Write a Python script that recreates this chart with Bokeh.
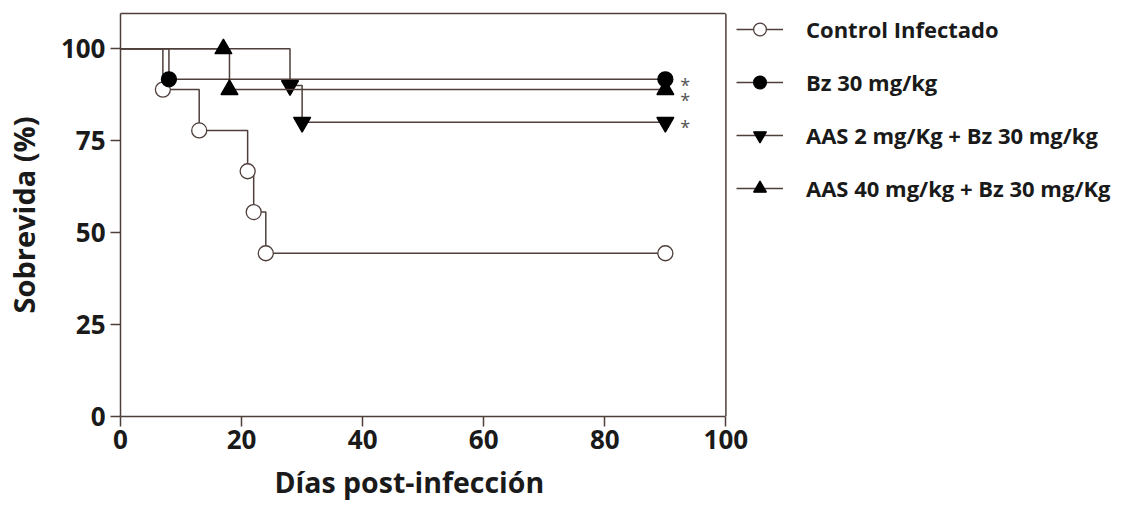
from bokeh.plotting import figure
from bokeh.models import Range1d, FixedTicker, Legend, LegendItem, ColumnDataSource, LinearAxis, Span, Title
from bokeh.core.properties import value
from bokeh.embed import file_html
from bokeh.resources import INLINE

# ---- data ----
ctrl_days = [0, 7, 13, 21, 22, 24, 90]
ctrl_surv = [100, 88.9, 77.8, 66.7, 55.6, 44.4, 44.4]
bz_days = [0, 8, 90]
bz_surv = [100, 91.7, 91.7]
aas2_days = [0, 28, 30, 90]
aas2_surv = [100, 90, 80, 80]
aas40_days = [0, 17, 18, 90]
aas40_surv = [100, 100, 88.9, 88.9]

labels = ["Control Infectado", "Bz 30 mg/kg", "AAS 2 mg/Kg + Bz 30 mg/kg", "AAS 40 mg/kg + Bz 30 mg/Kg"]
x_ticks = [0, 20, 40, 60, 80, 100]
y_ticks = [0, 25, 50, 75, 100]
sig_marks = ["*", "*", "*"]

X_MAX = 100
Y_MAX = 109.6
LINE = "#4e3f3b"
TXT = "#1a1a1a"
FONT = "Open Sans"

# The frame is widened to the right so the legend (drawn inside it) is not clipped;
# axis bounds + span keep the visible box at 0..100 days.
W, LEFT, RIGHT = 1122, 119, 2
box_px = 606
x_end = X_MAX * (W - LEFT - RIGHT) / box_px

p = figure(width=W, height=510, output_backend="svg", toolbar_location=None,
           x_range=Range1d(0, x_end), y_range=Range1d(0, Y_MAX),
           min_border_left=LEFT, min_border_right=RIGHT, min_border_top=13, min_border_bottom=94)
p.grid.visible = False
p.outline_line_color = None
p.background_fill_color = "white"
p.border_fill_color = "white"

for ax in (p.xaxis[0], p.yaxis[0]):
    ax.axis_line_color = LINE
    ax.axis_line_width = 1.5
    ax.major_tick_line_color = LINE
    ax.major_tick_line_width = 1.5
    ax.major_tick_out = 10
    ax.major_tick_in = 0
    ax.minor_tick_line_color = None
    ax.major_label_text_font = FONT
    ax.major_label_text_font_style = "bold"
    ax.major_label_text_font_size = "26px"
    ax.major_label_text_color = TXT
    ax.axis_label_text_font = FONT
    ax.axis_label_text_font_style = "bold"
    ax.axis_label_text_color = TXT

p.xaxis.bounds = (0, X_MAX)
p.yaxis.bounds = (0, Y_MAX)
p.yaxis.axis_label_text_font_size = "29px"
p.xaxis.ticker = FixedTicker(ticks=x_ticks)
p.yaxis.ticker = FixedTicker(ticks=y_ticks)
p.yaxis.axis_label = "Sobrevida (%)"
p.xaxis.major_label_standoff = 3
p.yaxis.major_label_standoff = 5
p.yaxis.axis_label_standoff = 15

# x-axis title placed under the 0..100 part of the frame
p.add_layout(Title(text="Días post-infección", align="left", offset=154,
                   text_font=FONT, text_font_style="bold", text_font_size="28.5px",
                   text_color=TXT, standoff=18), "below")

# top border of the box (tickless axis) and right border
top = LinearAxis(bounds=(0, X_MAX), axis_line_color=LINE, axis_line_width=1.5,
                 major_tick_line_color=None, minor_tick_line_color=None,
                 major_label_text_font_size="0px", ticker=FixedTicker(ticks=[]))
top.major_label_text_color = None
p.add_layout(top, "above")
p.add_layout(Span(location=X_MAX, dimension="height", line_color=LINE, line_width=1.5))

series = [
    (ctrl_days, ctrl_surv, "circle", 15, "white", LINE),
    (bz_days, bz_surv, "circle", 15, "black", "black"),
    (aas2_days, aas2_surv, "inverted_triangle", 17, "black", "black"),
    (aas40_days, aas40_surv, "triangle", 17, "black", "black"),
]

items = []
for (d, s, mk, sz, fill, lc), lab in zip(series, labels):
    lr = p.step(d, s, mode="after", line_color=LINE, line_width=1.5)
    sr = p.scatter(d[1:], s[1:], marker=mk, size=sz, fill_color=fill, line_color=lc, line_width=1.3)
    items.append(LegendItem(label=lab, renderers=[lr, sr]))

# significance asterisks next to treated groups' final values
ast_src = ColumnDataSource(dict(x=[bz_days[-1], aas40_days[-1], aas2_days[-1]],
                                y=[bz_surv[-1], aas40_surv[-1], aas2_surv[-1]],
                                t=sig_marks, dx=[15, 15, 15], dy=[6, 10, 5]))
p.text(x="x", y="y", text="t", source=ast_src, x_offset="dx", y_offset="dy",
       text_font=value(FONT), text_font_size="18px", text_color="#555555",
       text_baseline="middle", text_align="left")

legend = Legend(items=items, location=(616, 212), orientation="vertical",
                glyph_width=47, glyph_height=32, label_height=20, label_standoff=23, spacing=21,
                padding=0, margin=0, border_line_alpha=0, background_fill_alpha=0,
                label_text_font=FONT, label_text_font_style="bold",
                label_text_font_size="22px", label_text_color=TXT)
p.add_layout(legend, "center")

open("out.html", "w").write(file_html(p, INLINE))
